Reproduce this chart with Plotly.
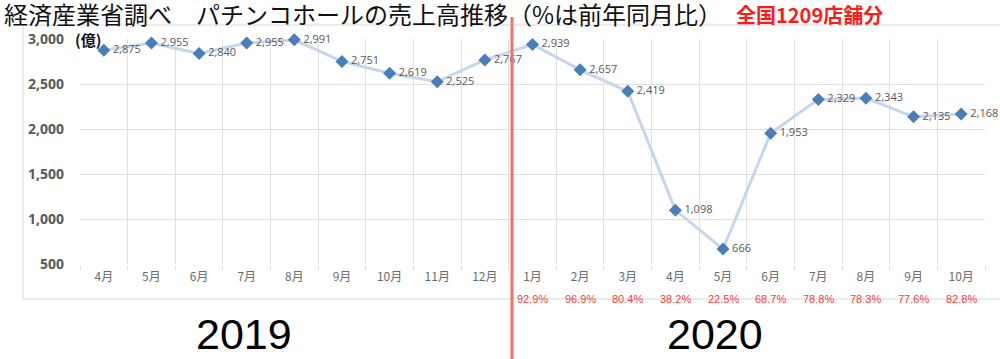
import plotly.graph_objects as go

months = ["4月", "5月", "6月", "7月", "8月", "9月", "10月", "11月", "12月",
          "1月", "2月", "3月", "4月", "5月", "6月", "7月", "8月", "9月", "10月"]
sales = [2875, 2955, 2840, 2955, 2991, 2751, 2619, 2525, 2767,
         2939, 2657, 2419, 1098, 666, 1953, 2329, 2343, 2135, 2168]
pct_labels = ["92.9%", "96.9%", "80.4%", "38.2%", "22.5%", "68.7%", "78.8%", "78.3%", "77.6%", "82.8%"]
pct_start = 9
y_ticks = [500, 1000, 1500, 2000, 2500, 3000]
y_ticktext = ["500", "1,000", "1,500", "2,000", "2,500", "3,000"]
title_text = "経済産業省調べ\u3000パチンコホールの売上高推移（%は前年同月比）"
sub_text = "全国1209店舗分"
year_labels = ["2019", "2020"]

x = list(range(len(months)))
data_labels = [f"\u2009{v:,}" for v in sales]

fig = go.Figure()
fig.add_trace(go.Scatter(
    x=x, y=sales, mode="lines+markers+text",
    line=dict(color="#c5d6ec", width=3),
    marker=dict(symbol="diamond", size=10, color="#4a7ebb"),
    text=data_labels, textposition="middle right",
    textfont=dict(family="Open Sans, Liberation Sans", size=11, color="#595959"),
    cliponaxis=False, showlegend=False,
))

# percentage labels under 2020 months
for i, p in enumerate(pct_labels):
    fig.add_annotation(x=pct_start + i, y=-0.19, xref="x", yref="paper",
                       text=p, showarrow=False,
                       font=dict(family="Liberation Sans, Arial", size=11, color="#ff3b3b"))

PW = 905.0
PH = 225.0
def px(v):
    return (v - 80) / PW
def py(v):
    return (264 - v) / PH

fig.add_annotation(x=px(2), y=py(14), xref="paper", yref="paper", xanchor="left", yanchor="middle",
                   text=title_text, showarrow=False,
                   font=dict(family="Noto Sans CJK JP", size=24, color="#111111"))
fig.add_annotation(x=px(734), y=py(15), xref="paper", yref="paper", xanchor="left", yanchor="middle",
                   text="<b>" + sub_text + "</b>", showarrow=False,
                   font=dict(family="Noto Sans CJK JP", size=20, color="#ff1a1a"))
fig.add_annotation(x=px(73), y=py(39), xref="paper", yref="paper", xanchor="left", yanchor="middle",
                   text="<b>(億)</b>", showarrow=False,
                   font=dict(family="Noto Sans CJK JP", size=15, color="#111111"))
fig.add_annotation(x=px(244), y=py(334), xref="paper", yref="paper", xanchor="center", yanchor="middle",
                   text=year_labels[0], showarrow=False,
                   font=dict(family="Liberation Sans, Arial", size=43, color="#000000"))
fig.add_annotation(x=px(715), y=py(334), xref="paper", yref="paper", xanchor="center", yanchor="middle",
                   text=year_labels[1], showarrow=False,
                   font=dict(family="Liberation Sans, Arial", size=43, color="#000000"))

# outer chart frame
fig.add_shape(type="rect", xref="paper", yref="paper",
              x0=px(23), x1=px(1005), y0=py(299), y1=py(25),
              line=dict(color="#d9d9d9", width=1), layer="below")
# red divider
fig.add_shape(type="line", xref="paper", yref="paper",
              x0=px(512), x1=px(512), y0=py(362), y1=py(17),
              line=dict(color="#f27070", width=3))

fig.update_layout(
    width=1000, height=359,
    margin=dict(l=80, r=15, t=39, b=95),
    paper_bgcolor="white", plot_bgcolor="white",
    xaxis=dict(
        range=[-0.5, len(months) - 0.5],
        tickmode="array", tickvals=x, ticktext=months,
        showgrid=False, zeroline=False, showline=False,
        ticks="", ticklabelstandoff=4,
        tickfont=dict(family="Noto Sans CJK JP", size=12, color="#6b6b6b"),
        minor=dict(tick0=-0.5, dtick=1, showgrid=True, gridcolor="#e0e0e0", gridwidth=1,
                   ticks="outside", ticklen=5, tickcolor="#e0e0e0"),
    ),
    yaxis=dict(
        range=[500, 3000], tickmode="array", tickvals=y_ticks, ticktext=y_ticktext,
        showgrid=True, gridcolor="#e0e0e0", gridwidth=1, zeroline=False, showline=False,
        ticks="", ticklabelstandoff=15,
        tickfont=dict(family="Open Sans, Liberation Sans", size=14, color="#595959", weight="bold"),
    ),
)

fig.write_html("out.html", config={"displayModeBar": False},
               post_script="document.body.style.margin='0';document.body.style.overflow='hidden';")
